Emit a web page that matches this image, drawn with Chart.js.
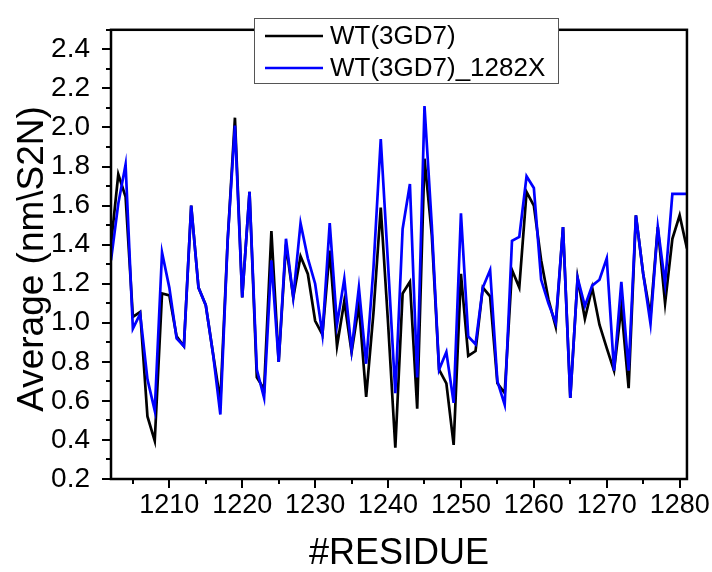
<!DOCTYPE html>
<html>
<head>
<meta charset="utf-8">
<script src="https://cdn.jsdelivr.net/npm/chart.js@4.4.1/dist/chart.umd.min.js"></script>
<style>
html,body{margin:0;padding:0;background:#fff;}
canvas{display:block;}
</style>
</head>
<body>
<canvas id="c" width="712" height="572"></canvas>
<script>
const residues = [];
for (let r = 1202; r <= 1281; r++) residues.push(r);

const seriesNames = ["WT(3GD7)", "WT(3GD7)_1282X"];
const xTitle = "#RESIDUE";
const yTitle = "Average (nm\\S2N)";

const wtValues = [
  1.40, 1.76, 1.645, 1.03, 1.055, 0.52, 0.395, 1.15, 1.14, 0.93,
  0.88, 1.60, 1.18, 1.09, 0.84, 0.60, 1.42, 2.05, 1.13, 1.67,
  0.72, 0.66, 1.47, 0.80, 1.40, 1.13, 1.34, 1.25, 1.01, 0.94,
  1.37, 0.88, 1.11, 0.85, 1.09, 0.62, 1.05, 1.59, 1.00, 0.36,
  1.15, 1.21, 0.56, 1.84, 1.45, 0.76, 0.69, 0.375, 1.25, 0.83,
  0.855, 1.18, 1.135, 0.69, 0.64, 1.27, 1.18, 1.67, 1.60, 1.32,
  1.12, 0.98, 1.49, 0.615, 1.23, 1.02, 1.18, 0.99, 0.87, 0.755,
  1.08, 0.665, 1.55, 1.25, 1.035, 1.49, 1.10, 1.43, 1.55, 1.38
];

const mutValues = [
  1.32, 1.61, 1.81, 0.97, 1.045, 0.71, 0.55, 1.36, 1.18, 0.92,
  0.88, 1.60, 1.18, 1.09, 0.84, 0.53, 1.42, 2.01, 1.13, 1.67,
  0.76, 0.615, 1.32, 0.80, 1.43, 1.13, 1.51, 1.33, 1.20, 0.94,
  1.51, 0.99, 1.225, 0.86, 1.18, 0.79, 1.28, 1.94, 1.30, 0.64,
  1.48, 1.71, 0.72, 2.11, 1.50, 0.76, 0.85, 0.59, 1.56, 0.93,
  0.89, 1.18, 1.27, 0.70, 0.58, 1.42, 1.44, 1.75, 1.69, 1.22,
  1.10, 1.00, 1.49, 0.615, 1.23, 1.085, 1.19, 1.22, 1.33, 0.755,
  1.21, 0.755, 1.55, 1.25, 0.995, 1.49, 1.20, 1.66, 1.66, 1.66
];

const xTickValues = [1205,1210,1215,1220,1225,1230,1235,1240,1245,1250,1255,1260,1265,1270,1275,1280];
const yTickValues = [0.2,0.3,0.4,0.5,0.6,0.7,0.8,0.9,1.0,1.1,1.2,1.3,1.4,1.5,1.6,1.7,1.8,1.9,2.0,2.1,2.2,2.3,2.4,2.5];

const FONT = "'Liberation Sans', Arial, Helvetica, sans-serif";

const framePlugin = {
  id: 'frame',
  afterDatasetsDraw(chart) {
    const ctx = chart.ctx;
    const a = chart.chartArea;
    const xs = chart.scales.x, ys = chart.scales.y;
    ctx.save();
    ctx.strokeStyle = '#000';
    ctx.lineWidth = 2;
    ctx.beginPath();
    yTickValues.forEach((v) => {
      const major = Math.round(v * 10) % 2 === 0;
      const py = Math.round(ys.getPixelForValue(v));
      const len = major ? 9 : 5;
      ctx.moveTo(a.left - len, py);
      ctx.lineTo(a.left, py);
    });
    xTickValues.forEach((v) => {
      const major = v % 10 === 0;
      const px = Math.round(xs.getPixelForValue(v));
      const len = major ? 9 : 5;
      ctx.moveTo(px, a.bottom);
      ctx.lineTo(px, a.bottom + len);
    });
    ctx.stroke();
    ctx.lineWidth = 2.5;
    ctx.strokeRect(a.left, a.top, a.right - a.left, a.bottom - a.top);

    // y axis title
    ctx.fillStyle = '#000';
    ctx.font = '37px ' + FONT;
    ctx.textAlign = 'center';
    ctx.textBaseline = 'middle';
    ctx.translate(33, 259);
    ctx.rotate(-Math.PI / 2);
    ctx.fillText(yTitle, 0, 0);
    ctx.setTransform(1, 0, 0, 1, 0, 0);

    // legend box
    const bx = 254, by = 18, bw = 304, bh = 65;
    ctx.fillStyle = '#fff';
    ctx.fillRect(bx, by, bw, bh);
    ctx.lineWidth = 1;
    ctx.strokeStyle = '#555';
    ctx.strokeRect(bx + 0.5, by + 0.5, bw, bh);
    const rows = [36, 68];
    chart.data.datasets.forEach((ds, i) => {
      ctx.strokeStyle = ds.borderColor;
      ctx.lineWidth = 2.7;
      ctx.beginPath();
      ctx.moveTo(265, rows[i]);
      ctx.lineTo(323, rows[i]);
      ctx.stroke();
      ctx.fillStyle = '#000';
      ctx.font = '26px ' + FONT;
      ctx.textBaseline = 'middle';
      ctx.textAlign = 'left';
      ctx.fillText(ds.label, 330, rows[i] + 1);
    });
    ctx.restore();
  }
};

new Chart(document.getElementById('c'), {
  type: 'line',
  data: {
    datasets: [
      {
        label: seriesNames[0],
        data: residues.map((r, i) => ({x: r, y: wtValues[i]})),
        borderColor: '#000000',
        borderWidth: 2.7,
        pointRadius: 0,
        tension: 0,
        order: 2
      },
      {
        label: seriesNames[1],
        data: residues.map((r, i) => ({x: r, y: mutValues[i]})),
        borderColor: '#0000ff',
        borderWidth: 2.7,
        pointRadius: 0,
        tension: 0,
        order: 1
      }
    ]
  },
  options: {
    responsive: false,
    animation: false,
    devicePixelRatio: 1,
    layout: { padding: { top: 14, right: 24, bottom: 0, left: 0 } },
    plugins: {
      legend: { display: false },
      tooltip: { enabled: false }
    },
    scales: {
      x: {
        type: 'linear',
        min: 1202,
        max: 1281,
        afterBuildTicks(scale) { scale.ticks = xTickValues.map(v => ({ value: v })); },
        afterFit(scale) { scale.height = 93; },
        grid: { display: false },
        border: { display: false },
        ticks: {
          autoSkip: false,
          maxRotation: 0,
          padding: 2,
          color: '#000',
          font: { family: FONT, size: 27 },
          callback: (v) => (v % 10 === 0 ? String(v) : '')
        },
        title: {
          display: true,
          text: xTitle,
          color: '#000',
          font: { family: FONT, size: 36, lineHeight: 1.0 },
          padding: { top: 0, bottom: 0 }
        }
      },
      y: {
        type: 'linear',
        min: 0.2,
        max: 2.5,
        afterBuildTicks(scale) { scale.ticks = yTickValues.map(v => ({ value: v })); },
        afterFit(scale) { scale.width = 111; },
        grid: { display: false },
        border: { display: false },
        ticks: {
          autoSkip: false,
          padding: 13,
          color: '#000',
          font: { family: FONT, size: 28 },
          callback: (v) => (Math.round(v * 10) % 2 === 0 && Math.round(v * 10) <= 24 ? v.toFixed(1) : '')
        },
        title: { display: false }
      }
    }
  },
  plugins: [framePlugin]
});
</script>
</body>
</html>
